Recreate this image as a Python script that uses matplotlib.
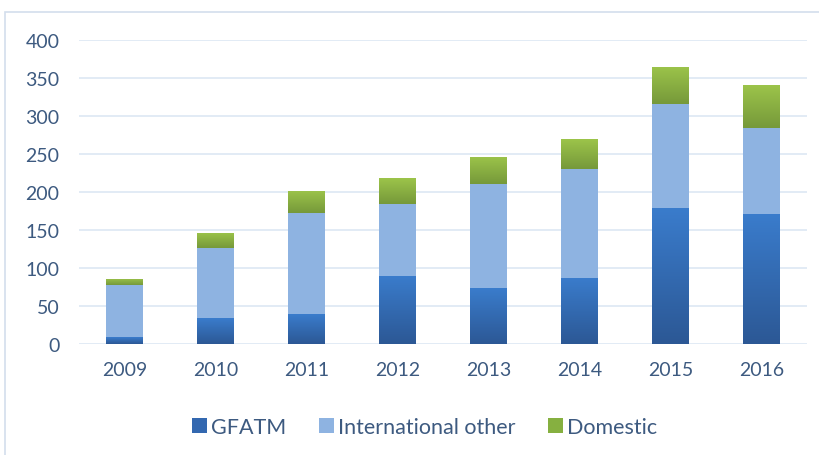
import matplotlib
matplotlib.use("Agg")
import matplotlib.pyplot as plt
import numpy as np
from matplotlib.patches import Patch, Rectangle
from matplotlib.colors import LinearSegmentedColormap

years = ["2009", "2010", "2011", "2012", "2013", "2014", "2015", "2016"]
gfatm = [9, 34, 39, 90, 73, 87, 179, 171]
intl_other = [69, 92, 133, 94, 137, 143, 136, 113]
domestic = [8, 20, 29, 34, 36, 39, 49, 56]
yticks = [0, 50, 100, 150, 200, 250, 300, 350, 400]
legend_labels = ["GFATM", "International other", "Domestic"]

plt.rcParams['font.family'] = ['Lato', 'DejaVu Sans']
text_color = '#3d5a80'

fig = plt.figure(figsize=(8.2, 4.56), dpi=100)
ax = fig.add_axes([79/820, 1-345/456, (807-79)/820, (345-40.7)/456])

x = np.arange(len(years))
w = 0.4
b1 = ax.bar(x, gfatm, w, color='#3572c0', zorder=3)
b2 = ax.bar(x, intl_other, w, bottom=gfatm, color='#8eb3e1', zorder=3)
bottom3 = [a + b for a, b in zip(gfatm, intl_other)]
b3 = ax.bar(x, domestic, w, bottom=bottom3, color='#86b040', zorder=3)

cm_blue = LinearSegmentedColormap.from_list('b', ['#2c5895', '#3a7ccc'])
cm_green = LinearSegmentedColormap.from_list('g', ['#76993a', '#9cc44a'])
grad = np.linspace(0, 1, 100).reshape(-1, 1)
for bars, cm in ((b1, cm_blue), (b3, cm_green)):
    for p in bars:
        x0, y0 = p.get_x(), p.get_y()
        pw, ph = p.get_width(), p.get_height()
        im = ax.imshow(grad, cmap=cm, origin='lower', aspect='auto',
                       extent=[x0, x0 + pw, y0, y0 + ph], zorder=4)
        im.set_clip_path(p)

ax.set_xlim(-0.5, len(years) - 0.5)
ax.set_ylim(0, 400)
ax.set_yticks(yticks)
ax.set_xticks(x)
ax.set_xticklabels(years)
ax.tick_params(axis='both', length=0, labelsize=14, colors=text_color)
ax.tick_params(axis='y', pad=14)
ax.tick_params(axis='x', pad=12)
for s in ax.spines.values():
    s.set_visible(False)
ax.grid(axis='y', color='#dde7f3', linewidth=1.2, zorder=0)
ax.set_axisbelow(True)

handles = [Patch(facecolor='#3368b0'), Patch(facecolor='#8eb3e1'), Patch(facecolor='#86b040')]
leg = fig.legend(handles, legend_labels, loc='center', bbox_to_anchor=(0.518, 1-428/456),
                 ncol=3, frameon=False, fontsize=15.5, handlelength=0.68, handleheight=0.68,
                 handletextpad=0.22, columnspacing=1.5)
for t in leg.get_texts():
    t.set_color(text_color)

# outer chart border
fig.add_artist(Rectangle((5.5/820, -0.05), 1.1, 1 - 13/456 + 0.05, transform=fig.transFigure,
                         fill=False, edgecolor='#d3deec', linewidth=1.2))

fig.savefig('out.png', dpi=100)
